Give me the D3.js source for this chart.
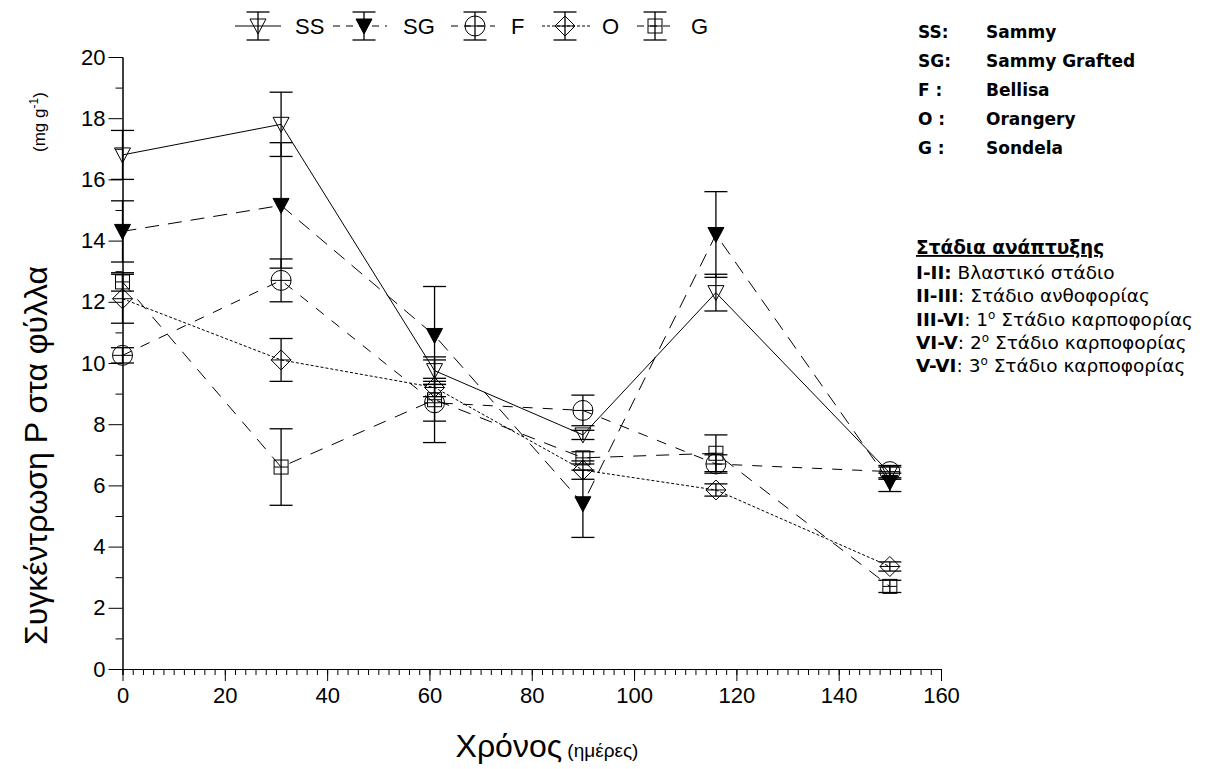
<!DOCTYPE html>
<html>
<head>
<meta charset="utf-8">
<script src="https://cdn.jsdelivr.net/npm/d3@7"></script>
<style>
  body { margin: 0; background: #fff; }
  svg { display: block; }
  text { font-family: 'Liberation Sans', Arial, sans-serif; fill: #000; }
  .side { font-family: 'DejaVu Sans', 'Open Sans', sans-serif; }
</style>
</head>
<body>
<div id="chart"></div>
<script>
'use strict'

// sampling days
const DAYS = [0, 31, 61, 90, 116, 150]

// mean values and error (mg g-1)
const SS_VALUES = [16.8, 17.8, 9.75, 7.65, 12.3, 6.4]
const SS_ERRORS = [0.8, 1.05, 0.35, 0.15, 0.6, 0.2]
const SG_VALUES = [14.3, 15.15, 10.9, 5.4, 14.2, 6.1]
const SG_ERRORS = [1.0, 2.05, 1.6, 1.1, 1.4, 0.3]
const F_VALUES = [10.25, 12.7, 8.7, 8.45, 6.7, 6.45]
const F_ERRORS = [0.25, 0.7, 0.6, 0.5, 0.3, 0.2]
const O_VALUES = [12.1, 10.1, 9.2, 6.5, 5.85, 3.35]
const O_ERRORS = [0.8, 0.7, 0.3, 0.3, 0.2, 0.15]
const G_VALUES = [12.65, 6.6, 8.8, 6.9, 7.05, 2.7]
const G_ERRORS = [0.3, 1.25, 1.4, 0.2, 0.6, 0.2]

const SERIES_KEYS = ['SS', 'SG', 'F', 'O', 'G']

const X_TICKS = [0, 20, 40, 60, 80, 100, 120, 140, 160]
const Y_TICKS = [0, 2, 4, 6, 8, 10, 12, 14, 16, 18, 20]

const VARIETIES = [
  ['SS:', 'Sammy'],
  ['SG:', 'Sammy Grafted'],
  ['F :', 'Bellisa'],
  ['O :', 'Orangery'],
  ['G :', 'Sondela']
]
const STAGES = [
  ['I-II:', ' Βλαστικό στάδιο', ''],
  ['II-III', ': Στάδιο ανθοφορίας', ''],
  ['III-VI', ': 1', 'ο Στάδιο καρποφορίας'],
  ['VI-V', ': 2', 'ο Στάδιο καρποφορίας'],
  ['V-VI', ': 3', 'ο Στάδιο καρποφορίας']
]

const WIDTH = 1214
const HEIGHT = 769
const PLOT = { left: 122.5, right: 941, top: 57, bottom: 669 }
const CAP = 11.5

const series = [
  { key: 'SS', values: SS_VALUES, errors: SS_ERRORS, dash: null, marker: 'tri', fill: 'none' },
  { key: 'SG', values: SG_VALUES, errors: SG_ERRORS, dash: '14,9', marker: 'tri', fill: '#000' },
  { key: 'F', values: F_VALUES, errors: F_ERRORS, dash: '10,10', marker: 'circle', fill: 'none' },
  { key: 'O', values: O_VALUES, errors: O_ERRORS, dash: '3,2', marker: 'diamond', fill: 'none' },
  { key: 'G', values: G_VALUES, errors: G_ERRORS, dash: '13,10', marker: 'square', fill: 'none' }
]

const svg = d3.select('#chart').append('svg')
  .attr('width', WIDTH)
  .attr('height', HEIGHT)

svg.append('rect').attr('width', WIDTH).attr('height', HEIGHT).attr('fill', '#fff')

const x = d3.scaleLinear().domain([0, 160]).range([PLOT.left, PLOT.right])
const y = d3.scaleLinear().domain([0, 20]).range([PLOT.bottom, PLOT.top])

// axes: minor ticks first, then labelled major ticks
svg.append('g')
  .attr('transform', 'translate(0,' + PLOT.bottom + ')')
  .call(d3.axisBottom(x).tickValues(d3.range(0, 161, 2)).tickSize(6).tickFormat(''))
svg.append('g')
  .attr('class', 'x-axis')
  .attr('transform', 'translate(0,' + PLOT.bottom + ')')
  .call(d3.axisBottom(x).tickValues(X_TICKS).tickSize(12).tickSizeOuter(0).tickPadding(6).tickFormat(d3.format('d')))
svg.append('g')
  .attr('transform', 'translate(' + PLOT.left + ',0)')
  .call(d3.axisLeft(y).tickValues(d3.range(1, 20, 2)).tickSize(7).tickFormat(''))
svg.append('g')
  .attr('class', 'y-axis')
  .attr('transform', 'translate(' + PLOT.left + ',0)')
  .call(d3.axisLeft(y).tickValues(Y_TICKS).tickSize(14).tickSizeOuter(0).tickPadding(3).tickFormat(d3.format('d')))

svg.selectAll('.domain, .tick line').attr('stroke', '#000').attr('stroke-width', 1)
svg.selectAll('.x-axis text').style('font-size', '22px').style('font-family', "'Liberation Sans Narrow', 'Liberation Sans', sans-serif")
svg.selectAll('.y-axis text').style('font-size', '22px')

// axis titles
svg.append('text')
  .attr('transform', 'translate(47,645) rotate(-90)')
  .style('font-size', '32px')
  .text('Συγκέντρωση P στα φύλλα')
const unit = svg.append('text')
  .attr('transform', 'translate(45,152) rotate(-90)')
  .style('font-size', '17px')
unit.append('tspan').text('(mg g')
unit.append('tspan').attr('dy', -7).style('font-size', '12px').text('-1')
unit.append('tspan').attr('dy', 7).text(')')

const xTitle = svg.append('text')
  .attr('x', 547)
  .attr('y', 757)
  .attr('text-anchor', 'middle')
xTitle.append('tspan').style('font-size', '32px').text('Χρόνος')
xTitle.append('tspan').style('font-size', '19px').text(' (ημέρες)')

function drawMarker (g, s) {
  if (s.marker === 'tri') {
    g.append('path').attr('d', 'M-8,-7L8,-7L0,8Z')
      .attr('fill', s.fill).attr('stroke', '#000')
  } else if (s.marker === 'circle') {
    g.append('circle').attr('r', 10).attr('fill', 'none').attr('stroke', '#000')
    g.append('line').attr('x1', -10).attr('x2', 10).attr('stroke', '#000')
  } else if (s.marker === 'diamond') {
    g.append('path').attr('d', 'M0,-10L10,0L0,10L-10,0Z').attr('fill', 'none').attr('stroke', '#000')
    g.append('line').attr('x1', -10).attr('x2', 10).attr('stroke', '#000')
  } else {
    g.append('rect').attr('x', -7).attr('y', -7).attr('width', 14).attr('height', 14)
      .attr('fill', 'none').attr('stroke', '#000')
    g.append('line').attr('x1', -7).attr('x2', 7).attr('stroke', '#000')
  }
}

const line = d3.line()
  .x((d, i) => x(DAYS[i]))
  .y(d => y(d))

series.forEach(s => {
  const layer = svg.append('g').attr('class', 'series-' + s.key)

  layer.append('path')
    .datum(s.values)
    .attr('fill', 'none')
    .attr('stroke', '#000')
    .attr('stroke-width', 1)
    .attr('stroke-dasharray', s.dash)
    .attr('d', line)

  const points = layer.selectAll('g.pt')
    .data(s.values.map((v, i) => ({ day: DAYS[i], v: v, e: s.errors[i] })))
    .join('g')
    .attr('class', 'pt')

  points.append('line')
    .attr('x1', d => x(d.day)).attr('x2', d => x(d.day))
    .attr('y1', d => y(d.v + d.e)).attr('y2', d => y(d.v - d.e))
    .attr('stroke', '#000').attr('stroke-width', 1.3)
  points.append('line')
    .attr('x1', d => x(d.day) - CAP).attr('x2', d => x(d.day) + CAP)
    .attr('y1', d => y(d.v + d.e)).attr('y2', d => y(d.v + d.e))
    .attr('stroke', '#000').attr('stroke-width', 1.3)
  points.append('line')
    .attr('x1', d => x(d.day) - CAP).attr('x2', d => x(d.day) + CAP)
    .attr('y1', d => y(d.v - d.e)).attr('y2', d => y(d.v - d.e))
    .attr('stroke', '#000').attr('stroke-width', 1.3)

  points.each(function (d) {
    const g = d3.select(this).append('g')
      .attr('transform', 'translate(' + x(d.day) + ',' + y(d.v) + ')')
    drawMarker(g, s)
  })
})

// legend along the top
const LEGEND_POS = [
  { sx: 235, ex: 281, mx: 258, tx: 295 },
  { sx: 333, ex: 387, mx: 364, tx: 403 },
  { sx: 451, ex: 495, mx: 475, tx: 511 },
  { sx: 542, ex: 590, mx: 565, tx: 602 },
  { sx: 637, ex: 675, mx: 655, tx: 691 }
]
const LEGEND_Y = 26
series.forEach((s, i) => {
  const p = LEGEND_POS[i]
  const lg = svg.append('g').attr('class', 'legend')
  lg.append('line').attr('x1', p.sx).attr('x2', p.ex).attr('y1', LEGEND_Y).attr('y2', LEGEND_Y)
    .attr('stroke', '#000').attr('stroke-dasharray', s.dash === '3,2' ? s.dash : (s.dash ? '7,6' : null))
  lg.append('line').attr('x1', p.mx).attr('x2', p.mx).attr('y1', LEGEND_Y - 14).attr('y2', LEGEND_Y + 14)
    .attr('stroke', '#000').attr('stroke-width', 1.3)
  lg.append('line').attr('x1', p.mx - CAP).attr('x2', p.mx + CAP).attr('y1', LEGEND_Y - 14).attr('y2', LEGEND_Y - 14)
    .attr('stroke', '#000').attr('stroke-width', 1.3)
  lg.append('line').attr('x1', p.mx - CAP).attr('x2', p.mx + CAP).attr('y1', LEGEND_Y + 14).attr('y2', LEGEND_Y + 14)
    .attr('stroke', '#000').attr('stroke-width', 1.3)
  const mg = lg.append('g').attr('transform', 'translate(' + p.mx + ',' + LEGEND_Y + ')')
  drawMarker(mg, s)
  lg.append('text').attr('x', p.tx).attr('y', LEGEND_Y + 8).style('font-size', '22px').text(SERIES_KEYS[i])
})

// variety names
VARIETIES.forEach((v, i) => {
  const yy = 38 + i * 29
  svg.append('text').attr('class', 'side').attr('x', 918).attr('y', yy)
    .style('font-size', '17px').style('font-weight', 'bold').text(v[0])
  svg.append('text').attr('class', 'side').attr('x', 986).attr('y', yy)
    .style('font-size', '17px').style('font-weight', 'bold').text(v[1])
})

// growth stages
svg.append('text').attr('class', 'side').attr('x', 916).attr('y', 254)
  .style('font-size', '18.5px').style('font-weight', 'bold').style('text-decoration', 'underline')
  .text('Στάδια ανάπτυξης')
STAGES.forEach((s, i) => {
  const t = svg.append('text').attr('class', 'side').attr('x', 916).attr('y', 279 + i * 23.3)
    .style('font-size', '18.5px')
  t.append('tspan').style('font-weight', 'bold').text(s[0])
  t.append('tspan').text(s[1])
  if (s[2]) {
    t.append('tspan').attr('dy', -7).style('font-size', '12px').text(s[2].charAt(0))
    t.append('tspan').attr('dy', 7).text(s[2].slice(1))
  }
})
</script>
</body>
</html>
